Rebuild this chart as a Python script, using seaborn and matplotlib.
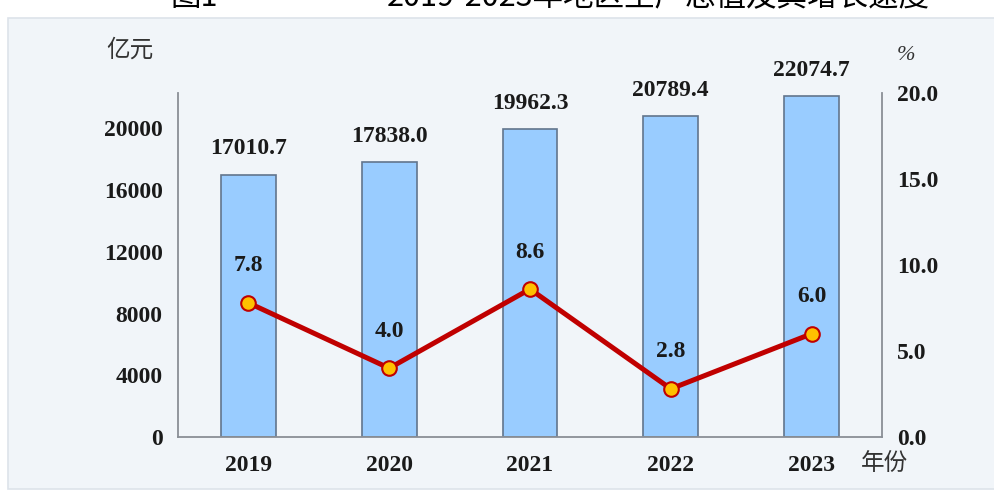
import matplotlib
matplotlib.use("Agg")
import matplotlib.pyplot as plt
import seaborn as sns
import pandas as pd
from matplotlib.patches import Rectangle

years = ["2019", "2020", "2021", "2022", "2023"]
gdp = [17010.7, 17838.0, 19962.3, 20789.4, 22074.7]
growth = [7.8, 4.0, 8.6, 2.8, 6.0]
left_ticks = [0, 4000, 8000, 12000, 16000, 20000]
right_ticks = [0.0, 5.0, 10.0, 15.0, 20.0]
title_num = "图1"
title_text = "2019-2023年地区生产总值及其增长速度"

sns.set_theme(style="white")
serif = ["Liberation Serif", "DejaVu Serif"]
cjk = ["Noto Sans CJK SC", "DejaVu Sans"]
plt.rcParams["font.family"] = serif

df = pd.DataFrame({"year": years, "gdp": gdp, "growth": growth})

W, H = 994, 495
fig = plt.figure(figsize=(W / 100, H / 100), dpi=100, facecolor="white")

# light panel background
fig.patches.append(Rectangle((8 / W, 6 / H), 1.0, (H - 18 - 6) / H,
                             transform=fig.transFigure, facecolor="#f1f5f9",
                             edgecolor="#dde3ea", linewidth=1.2, zorder=-10))

# title, cut off at the top edge as in the reference
fig.text(170 / W, 1 - 6 / H, title_num, ha="left", va="baseline",
         fontsize=22, family=cjk, color="black")
fig.text(930 / W, 1 - 6 / H, title_text, ha="right", va="baseline",
         fontsize=22, family=cjk, color="black")

ax = fig.add_axes([178 / W, (H - 437) / H, (882 - 178) / W, (437 - 93) / H])
ax.set_facecolor("none")

sns.barplot(data=df, x="year", y="gdp", ax=ax, width=0.39,
            color="#99ccff", saturation=1, edgecolor="#62758c", linewidth=1.2)
ax.set_xlim(-0.5, 4.5)
ax.set_ylim(0, 22300)
ax.set_yticks(left_ticks)
ax.set_yticklabels([str(t) for t in left_ticks])
ax.set_xlabel("")
ax.set_ylabel("")

for i, v in enumerate(gdp):
    ax.annotate(f"{v:.1f}", (i, v), xytext=(0, 11), textcoords="offset points",
                ha="center", va="bottom", fontsize=17, fontweight="bold",
                color="#1a1a1a")

ax2 = ax.twinx()
ax2.set_facecolor("none")
sns.lineplot(x=list(range(len(years))), y=growth, ax=ax2, color="#c00000",
             linewidth=3.6, marker="o", markersize=10.5,
             markerfacecolor="#ffc000", markeredgecolor="#c00000",
             markeredgewidth=1.5, zorder=5)
ax2.set_xlim(-0.5, 4.5)
ax2.set_ylim(0, 20)
ax2.set_yticks(right_ticks)
ax2.set_yticklabels([f"{t:.1f}" for t in right_ticks])
ax2.set_ylabel("")

for i, v in enumerate(growth):
    ax2.annotate(f"{v:.1f}", (i, v), xytext=(0, 19), textcoords="offset points",
                 ha="center", va="bottom", fontsize=17, fontweight="bold",
                 color="#1a1a1a")

for a in (ax, ax2):
    for s in a.spines.values():
        s.set_color("#8a8f96")
        s.set_linewidth(1.3)
    a.spines["top"].set_visible(False)
    a.tick_params(length=0)
ax.spines["right"].set_visible(False)
ax2.spines["left"].set_visible(False)
ax2.spines["bottom"].set_visible(False)

ax.tick_params(axis="y", pad=11, labelsize=17)
ax.tick_params(axis="x", pad=13, labelsize=17)
ax2.tick_params(axis="y", pad=11, labelsize=17)
for lab in ax.get_xticklabels() + ax.get_yticklabels() + ax2.get_yticklabels():
    lab.set_fontweight("bold")
    lab.set_color("#1a1a1a")

fig.text(130 / W, 1 - 50 / H, "亿元", ha="center", va="center",
         fontsize=17, family=cjk, color="#333333")
fig.text(906 / W, 1 - 55 / H, "%", ha="center", va="center",
         fontsize=16, family=serif, color="#333333", style="italic")
fig.text(885 / W, 1 - 463 / H, "年份", ha="center", va="center",
         fontsize=17, family=cjk, color="#333333")

fig.savefig("out.png", dpi=100, facecolor="white")
